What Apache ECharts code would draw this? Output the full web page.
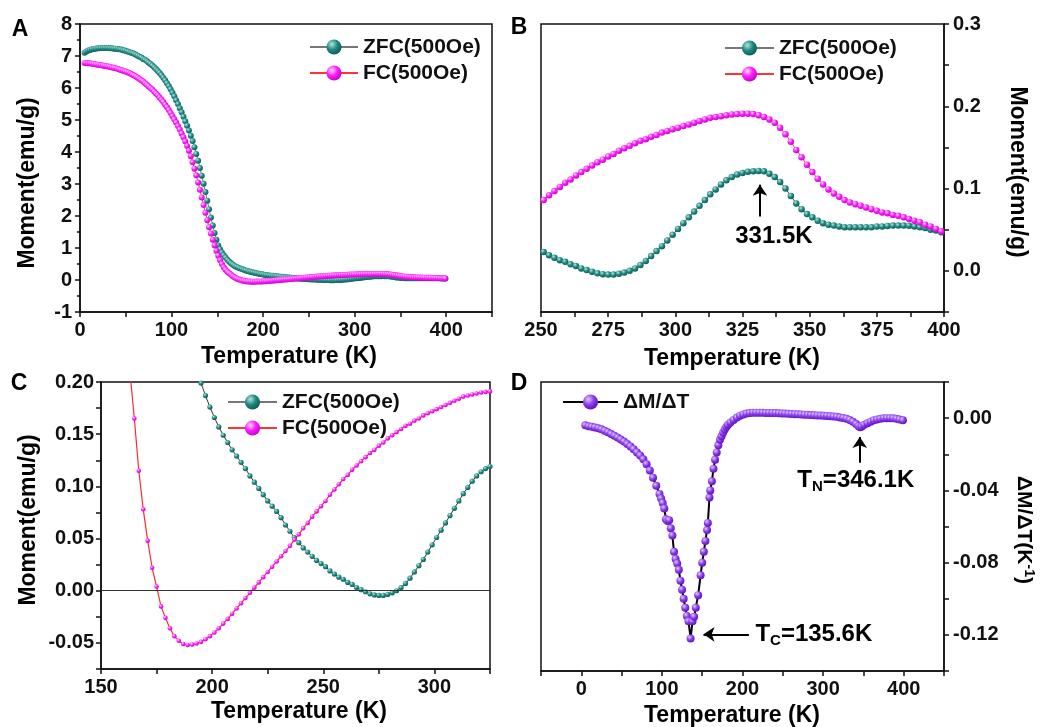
<!DOCTYPE html>
<html><head><meta charset="utf-8">
<script src="https://cdn.jsdelivr.net/npm/echarts@6/dist/echarts.min.js"></script>
<style>html,body{margin:0;padding:0;background:#fff}#c{width:1054px;height:727px}</style>
</head><body><div id="c"></div>
<script>
// ---------------- DATA ----------------
const temps = [
5,7,9,11,13,15,17,19,21,23,
25,27,29,31,33,35,37,39,41,43,
45,47,49,51,53,55,57,59,61,63,
65,67,69,71,73,75,77,79,81,83,
85,87,89,91,93,95,97,99,101,103,
105,107,109,111,113,115,117,119,121,123,
125,127,129,131,133,135,137,139,141,143,
145,147,149,151,153,155,157,159,161,163,
165,167,169,171,173,175,177,179,181,183,
185,187,189,191,193,195,197,199,201,203,
205,207,209,211,213,215,217,219,221,223,
225,227,229,231,233,235,237,239,241,243,
245,247,249,251,253,255,257,259,261,263,
265,267,269,271,273,275,277,279,281,283,
285,287,289,291,293,295,297,299,301,303,
305,307,309,311,313,315,317,319,321,323,
325,327,329,331,333,335,337,339,341,343,
345,347,349,351,353,355,357,359,361,363,
365,367,369,371,373,375,377,379,381,383,
385,387,389,391,393,395,397,399];
const zfc = [
7.10,7.14,7.17,7.19,7.21,7.22,7.23,7.24,7.24,7.25,
7.25,7.25,7.25,7.25,7.24,7.24,7.23,7.23,7.22,7.21,
7.20,7.18,7.17,7.15,7.13,7.11,7.09,7.07,7.04,7.01,
6.98,6.95,6.91,6.88,6.84,6.79,6.75,6.70,6.65,6.59,
6.53,6.47,6.40,6.32,6.24,6.15,6.06,5.96,5.85,5.74,
5.62,5.50,5.37,5.24,5.10,4.96,4.82,4.67,4.51,4.34,
4.15,3.94,3.73,3.50,3.26,3.01,2.75,2.48,2.21,1.95,
1.70,1.47,1.26,1.08,0.96,0.86,0.77,0.70,0.63,0.57,
0.52,0.48,0.44,0.41,0.385,0.36,0.34,0.32,0.30,0.28,
0.264,0.25,0.237,0.224,0.211,0.199,0.187,0.176,0.166,0.157,
0.149,0.142,0.135,0.129,0.123,0.117,0.110,0.104,0.098,0.092,
0.086,0.081,0.076,0.070,0.063,0.057,0.051,0.046,0.041,0.037,
0.033,0.029,0.026,0.023,0.019,0.016,0.013,0.011,0.008,0.006,
0.003,0.001,-0.001,-0.003,-0.004,-0.0045,-0.0045,-0.0035,-0.002,0.000,
0.003,0.007,0.012,0.018,0.024,0.030,0.037,0.044,0.051,0.058,
0.065,0.072,0.079,0.086,0.093,0.099,0.105,0.110,0.114,0.117,
0.119,0.1205,0.121,0.1215,0.121,0.118,0.114,0.108,0.100,0.091,
0.082,0.075,0.069,0.065,0.061,0.058,0.056,0.055,0.054,0.053,
0.053,0.053,0.053,0.053,0.053,0.054,0.054,0.0545,0.055,0.055,
0.055,0.0548,0.054,0.053,0.052,0.050,0.049,0.047];
const fc = [
6.78,6.78,6.77,6.77,6.76,6.75,6.74,6.73,6.72,6.71,
6.70,6.69,6.68,6.67,6.66,6.64,6.63,6.62,6.60,6.58,
6.56,6.54,6.52,6.50,6.48,6.45,6.42,6.39,6.36,6.32,
6.28,6.24,6.20,6.15,6.10,6.05,6.00,5.95,5.89,5.83,
5.77,5.70,5.63,5.56,5.48,5.40,5.31,5.22,5.12,5.02,
4.92,4.81,4.70,4.58,4.46,4.33,4.19,4.04,3.87,3.68,
3.48,3.27,3.05,2.82,2.58,2.34,2.10,1.87,1.65,1.45,
1.26,1.08,0.91,0.76,0.62,0.50,0.40,0.32,0.26,0.21,
0.165,0.115,0.078,0.048,0.022,0.004,-0.015,-0.026,-0.036,-0.0435,
-0.048,-0.051,-0.052,-0.0515,-0.0505,-0.049,-0.0465,-0.0435,-0.040,-0.036,
-0.0315,-0.027,-0.022,-0.017,-0.012,-0.007,-0.002,0.003,0.008,0.013,
0.018,0.023,0.028,0.033,0.038,0.043,0.049,0.054,0.060,0.065,
0.071,0.076,0.081,0.086,0.092,0.097,0.102,0.107,0.111,0.116,
0.120,0.124,0.128,0.132,0.135,0.139,0.142,0.146,0.149,0.152,
0.155,0.158,0.160,0.163,0.165,0.168,0.170,0.172,0.174,0.176,
0.178,0.180,0.182,0.184,0.186,0.187,0.188,0.189,0.190,0.1905,
0.191,0.191,0.1905,0.189,0.187,0.184,0.180,0.174,0.166,0.157,
0.147,0.138,0.129,0.120,0.112,0.105,0.099,0.094,0.090,0.086,
0.083,0.081,0.079,0.077,0.075,0.073,0.071,0.070,0.068,0.067,
0.065,0.063,0.061,0.059,0.056,0.054,0.051,0.048];
const dTemps = [
5,9,13,17,21,25,29,33,37,41,
45,49,53,57,61,65,69,73,77,81,
85,89,93,97,99,101,103,105,107,109,
111,113,115,117,119,121,123,125,127,129,
131,133,135.6,138,140,142,145,148,150,152,
154,156,157,159,160,162,164,166,168,170,
172,174,176,178,180,182,185,189,193,197,
201,205,209,213,217,221,225,229,233,237,
241,245,249,253,257,261,265,269,273,277,
281,285,289,293,297,301,305,309,313,317,
321,325,329,333,337,341,344,346,348,351,
355,359,363,367,371,375,379,383,387,391,
395,399];
const dmdt = [
-0.0040,-0.0045,-0.0048,-0.0052,-0.0056,-0.0062,-0.0070,-0.0078,-0.0088,-0.0097,
-0.0107,-0.0118,-0.0130,-0.0143,-0.0157,-0.0172,-0.0190,-0.0207,-0.0228,-0.0255,
-0.0290,-0.0330,-0.0375,-0.0420,-0.0445,-0.0470,-0.0500,-0.0560,-0.0570,-0.0565,
-0.0610,-0.0650,-0.0740,-0.0780,-0.0805,-0.0840,-0.0900,-0.0950,-0.1000,-0.1050,
-0.1095,-0.1125,-0.1220,-0.1125,-0.1100,-0.1050,-0.0980,-0.0870,-0.0800,-0.0740,
-0.0680,-0.0620,-0.0580,-0.0440,-0.0400,-0.0350,-0.0280,-0.0230,-0.0190,-0.0150,
-0.0120,-0.0100,-0.0080,-0.0063,-0.0048,-0.0036,-0.0024,-0.0010,0.0003,0.0013,
0.0020,0.0025,0.0028,0.0030,0.0030,0.0030,0.0030,0.0029,0.0029,0.0028,
0.0028,0.0027,0.0026,0.0025,0.0024,0.0023,0.0022,0.0021,0.0020,0.0019,
0.0018,0.0017,0.0016,0.0015,0.0014,0.0013,0.0012,0.0011,0.0009,0.0007,
0.0004,0.0001,-0.0003,-0.0010,-0.0020,-0.0033,-0.0045,-0.0050,-0.0046,-0.0037,
-0.0028,-0.0020,-0.0012,-0.0007,-0.0004,-0.0001,0.0000,0.0000,-0.0001,-0.0004,
-0.0008,-0.0012];

const ticksAx = ['0','100','200','300','400'];
const ticksAy = ['-1','0','1','2','3','4','5','6','7','8'];
const ticksBx = ['250','275','300','325','350','375','400'];
const ticksBy = ['0.0','0.1','0.2','0.3'];
const ticksCx = ['150','200','250','300'];
const ticksCy = ['-0.05','0.00','0.05','0.10','0.15','0.20'];
const ticksDx = ['0','100','200','300','400'];
const ticksDy = ['-0.12','-0.08','-0.04','0.00'];

const NAME_ZFC = 'ZFC(500Oe)';
const NAME_FC = 'FC(500Oe)';
const NAME_D = 'ΔM/ΔT';

// ---------------- STYLE ----------------
const FONT = "'Liberation Sans', Arial, sans-serif";
const INK = '#111';
function ball(hi, mid, lo) {
  return {type:'radial', x:0.36, y:0.32, r:0.72,
    colorStops:[{offset:0,color:hi},{offset:0.5,color:mid},{offset:1,color:lo}]};
}
const TEAL = ball('#b4e4de', '#1f8a82', '#0c5a54');
const MAG = ball('#ffd8ff', '#ff1cff', '#c400c4');
const PURP = ball('#e0ccff', '#8d3cf0', '#5a12b4');

// show a label only when the tick value equals one of the listed tick labels
function fmt(list) {
  const nums = list.map(Number);
  return function (v) {
    for (let i = 0; i < nums.length; i++) {
      if (Math.abs(v - nums[i]) < 1e-7) return list[i];
    }
    return '';
  };
}
function axis(extra) {
  const base = {
    type: 'value',
    axisLine: {show: true, onZero: false, lineStyle: {color: INK, width: 1.5}},
    axisTick: {show: true, inside: false, length: 5, lineStyle: {color: INK, width: 1.5}},
    splitLine: {show: false},
    axisLabel: {color: INK, fontSize: 20, fontWeight: 'bold', fontFamily: FONT, margin: 8}
  };
  const o = Object.assign({}, base, extra);
  o.axisLabel = Object.assign({}, base.axisLabel, extra.axisLabel || {});
  return o;
}
const pairs = (xs, ys) => xs.map((x, i) => [x, ys[i]]);

const grids = [
  {left: 80, top: 24, width: 412, height: 288},
  {left: 541, top: 24, width: 403, height: 288},
  {left: 101, top: 382, width: 389, height: 287},
  {left: 541, top: 382, width: 403, height: 289}
].map(g => Object.assign(g, {show: true, borderColor: INK, borderWidth: 1.5, backgroundColor: 'transparent', containLabel: false, outerBoundsMode: 'none'}));

const xAxes = [
  axis({gridIndex: 0, min: 0, max: 450, interval: 50, axisLabel: {margin: 8, formatter: fmt(ticksAx)}}),
  axis({gridIndex: 1, min: 250, max: 400, interval: 12.5, axisLabel: {margin: 8, formatter: fmt(ticksBx)}}),
  axis({gridIndex: 2, min: 150, max: 325, interval: 25, axisLabel: {margin: 8, formatter: fmt(ticksCx)}}),
  axis({gridIndex: 3, min: -50, max: 450, interval: 50, axisLabel: {margin: 8, formatter: fmt(ticksDx)}})
];
const yAxes = [
  axis({gridIndex: 0, min: -1, max: 8, interval: 1, axisLabel: {margin: 8, formatter: fmt(ticksAy)},
        minorTick: {show: true, splitNumber: 2, length: 3, lineStyle: {color: INK, width: 1.5}}}),
  axis({gridIndex: 1, position: 'right', min: -0.05, max: 0.3, interval: 0.05, axisLabel: {margin: 9, formatter: fmt(ticksBy)}}),
  axis({gridIndex: 2, min: -0.075, max: 0.2, interval: 0.025, axisLabel: {margin: 7, formatter: fmt(ticksCy)}}),
  axis({gridIndex: 3, position: 'right', min: -0.14, max: 0.02, interval: 0.02, axisLabel: {margin: 9, formatter: fmt(ticksDy)}})
];

function mSeries(name, gi, ys, size, color, lineColor, lineW, extra) {
  return Object.assign({
    type: 'line', name: name, xAxisIndex: gi, yAxisIndex: gi,
    data: pairs(temps, ys), symbol: 'circle', symbolSize: size,
    showSymbol: true, showAllSymbol: true, clip: true,
    lineStyle: {color: lineColor, width: lineW},
    itemStyle: {color: color, borderWidth: 0},
    emphasis: {disabled: true}
  }, extra || {});
}
const arrowLine = (pts) => ({
  silent: true, symbol: ['none', 'arrow'], symbolSize: 11,
  lineStyle: {color: '#000', width: 2, type: 'solid'},
  itemStyle: {color: '#000'},
  label: {show: false}, emphasis: {disabled: true},
  data: pts.map(p => [{coord: p[0]}, {coord: p[1]}])
});

const series = [
  mSeries(NAME_ZFC, 0, zfc, 6, TEAL, '#777', 1),
  mSeries(NAME_FC, 0, fc, 6, MAG, '#ff3333', 1),
  mSeries(NAME_ZFC, 1, zfc, 6.5, TEAL, '#444', 1, {markLine: arrowLine([[[331.5, 0.066], [331.5, 0.1045]]])}),
  mSeries(NAME_FC, 1, fc, 6.5, MAG, '#ff3333', 1),
  mSeries(NAME_ZFC, 2, zfc, 5.2, TEAL, '#333', 1),
  mSeries(NAME_FC, 2, fc, 4.6, MAG, '#ff2a2a', 1.2, {markLine: {
    silent: true, symbol: 'none', label: {show: false}, emphasis: {disabled: true},
    lineStyle: {color: '#333', width: 1, type: 'solid'}, data: [{yAxis: 0}]}}),
  {type: 'line', name: NAME_D, xAxisIndex: 3, yAxisIndex: 3, data: pairs(dTemps, dmdt),
   symbol: 'circle', symbolSize: 8, showSymbol: true, showAllSymbol: true,
   lineStyle: {color: '#000', width: 2}, itemStyle: {color: PURP, borderWidth: 0},
   emphasis: {disabled: true}, z: 3,
   markLine: arrowLine([[[345.5, -0.0247], [345.5, -0.0104]], [[208, -0.1197], [151.6, -0.1197]]])}
];

const legText = {fontSize: 21, fontWeight: 'bold', fontFamily: FONT, color: INK, lineHeight: 24};
function leg(left, top, names, w) {
  return {left: left, top: top, orient: 'vertical', padding: 0, itemWidth: w, itemHeight: 19,
          itemGap: 2, selectedMode: false, data: names, textStyle: legText};
}

const option = {
  animation: false,
  backgroundColor: '#fff',
  grid: grids, xAxis: xAxes, yAxis: yAxes, series: series,
  legend: [
    leg(309, 35, [NAME_ZFC, NAME_FC], 48),
    leg(724, 36, [NAME_ZFC, NAME_FC], 49),
    leg(227, 390, [NAME_ZFC, NAME_FC], 49),
    leg(562, 390, [NAME_D], 55)
  ]
};

const chart = echarts.init(document.getElementById('c'), null, {renderer: 'canvas'});
chart.setOption(option);

// ---------------- TEXT (titles, letters, annotations) ----------------
function txt(x, y, text, size, rot, extra) {
  return {type: 'text', x: x, y: y, rotation: rot || 0, silent: true, z: 100,
    style: Object.assign({text: text, fill: '#000', font: 'bold ' + size + 'px ' + FONT,
      align: 'center', verticalAlign: 'middle', textAlign: 'center', textVerticalAlign: 'middle'}, extra || {})};
}
const pB = chart.convertToPixel({gridIndex: 1}, [336.7, 0.0417]);
const pTN = chart.convertToPixel({gridIndex: 3}, [340.6, -0.0343]);
const pTC = chart.convertToPixel({gridIndex: 3}, [216.0, -0.1197]);
const richSub = {
  b: {font: 'bold 24px ' + FONT, fill: '#000', lineHeight: 28},
  s: {font: 'bold 15px ' + FONT, fill: '#000', lineHeight: 21, verticalAlign: 'bottom'}
};
const graphics = [
  txt(20, 30, 'A', 23), txt(519, 28, 'B', 23), txt(19, 384, 'C', 23), txt(519, 384, 'D', 23),
  txt(289, 357, 'Temperature (K)', 23), txt(732, 359, 'Temperature (K)', 23),
  txt(299, 712, 'Temperature (K)', 23), txt(732, 716, 'Temperature (K)', 23),
  txt(28, 183, 'Moment(emu/g)', 23, Math.PI / 2),
  txt(29, 520, 'Moment(emu/g)', 23, Math.PI / 2),
  txt(1017, 172, 'Moment(emu/g)', 23, -Math.PI / 2),
  txt(1024, 530, '{a|ΔM/ΔT(K}{s|-1}{a|)}', 20, -Math.PI / 2, {rich: {
    a: {font: 'bold 21px ' + FONT, fill: '#000', lineHeight: 24},
    s: {font: 'bold 14px ' + FONT, fill: '#000', lineHeight: 14, verticalAlign: 'top'}}}),
  txt(pB[0], pB[1], '331.5K', 24),
  txt(pTN[0], pTN[1], '{b|T}{s|N}{b|=346.1K}', 24, 0, {rich: richSub}),
  txt(pTC[0], pTC[1], '{b|T}{s|C}{b|=135.6K}', 24, 0, {rich: richSub, align: 'left', textAlign: 'left'})
];
chart.setOption({graphic: graphics});
</script>
</body></html>
